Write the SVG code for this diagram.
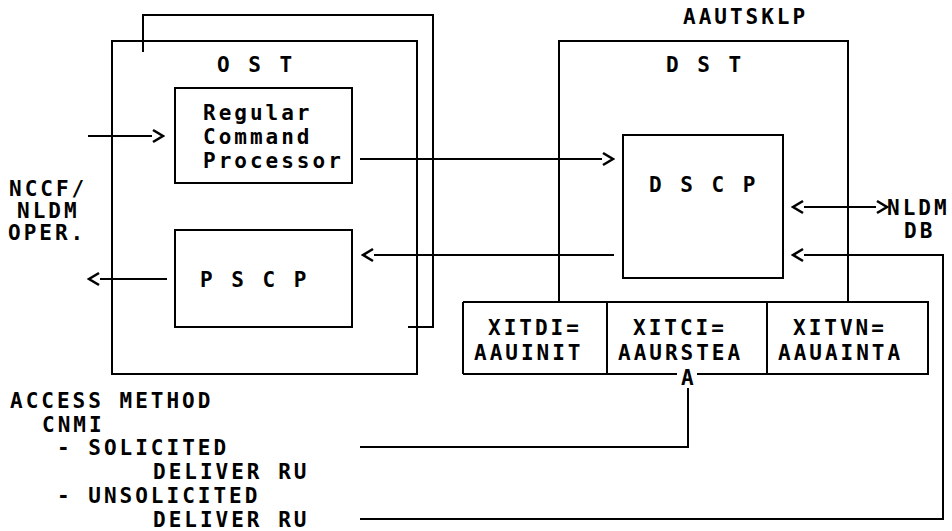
<svg xmlns="http://www.w3.org/2000/svg" width="952" height="531" viewBox="0 0 952 531">
<style>
.b{fill:none;stroke:#000;stroke-width:2}
.c{fill:none;stroke:#000;stroke-width:2}
text{font-family:"DejaVu Sans Mono","Liberation Mono",monospace;font-size:21px;font-weight:bold;letter-spacing:3px;fill:#000}
</style>
<defs>
<marker id="ch" markerUnits="userSpaceOnUse" viewBox="-1 0 13 16" markerWidth="13" markerHeight="16" refX="-1" refY="8" orient="auto-start-reverse">
<path d="M0,2 L10,8 L0,14" fill="none" stroke="#000" stroke-width="2.6"/>
</marker>
</defs>
<rect width="952" height="531" fill="#fff"/>
<g id="connectors">
<path class="c" d="M143,52 V15 H433 V327 H408"/>
<path class="c" d="M88,136 H152" marker-end="url(#ch)"/>
<path class="c" d="M360,159 H602" marker-end="url(#ch)"/>
<path class="c" d="M614,255 H374" marker-end="url(#ch)"/>
<path class="c" d="M167,279 H100" marker-end="url(#ch)"/>
<path class="c" d="M804,207 H876" marker-start="url(#ch)" marker-end="url(#ch)"/>
<path class="c" d="M360,519 H943 V255 H804" marker-end="url(#ch)"/>
<path class="c" d="M360,447 H688 V388"/>
</g>
<g id="ost">
<rect class="b" x="112" y="41" width="305" height="333"/>
<text x="217" y="72">O S T</text>
</g>
<g id="rcp">
<rect class="b" x="175" y="88" width="177" height="95"/>
<text x="203" y="120">Regular</text>
<text x="203" y="144">Command</text>
<text x="203" y="168">Processor</text>
</g>
<g id="pscp">
<rect class="b" x="175" y="230" width="177" height="97"/>
<text x="200" y="287">P S C P</text>
</g>
<g id="dst">
<rect class="b" x="559" y="41" width="289" height="261"/>
<text x="666" y="72">D S T</text>
<text x="683" y="24">AAUTSKLP</text>
</g>
<g id="dscp">
<rect class="b" x="623" y="135" width="160" height="143"/>
<text x="649" y="192">D S C P</text>
</g>
<g id="xit">
<path class="b" d="M463,302 H928 V374 H697 M677,374 H463 Z M607,302 V374 M767,302 V374"/>
<path class="b" d="M463,302 V374"/>
<text x="488" y="335">XITDI=</text>
<text x="474" y="360">AAUINIT</text>
<text x="633" y="335">XITCI=</text>
<text x="618" y="360">AAURSTEA</text>
<text x="793" y="335">XITVN=</text>
<text x="778" y="360">AAUAINTA</text>
<text x="681" y="385">A</text>
</g>
<g id="nccf">
<text x="9" y="196">NCCF/</text>
<text x="17" y="218">NLDM</text>
<text x="8" y="240">OPER.</text>
</g>
<g id="nldmdb">
<text x="887" y="215">NLDM</text>
<text x="904" y="238">DB</text>
</g>
<g id="access">
<text x="10" y="408">ACCESS METHOD</text>
<text x="42" y="432">CNMI</text>
<text x="57" y="455">- SOLICITED</text>
<text x="153" y="479">DELIVER RU</text>
<text x="57" y="503">- UNSOLICITED</text>
<text x="153" y="527">DELIVER RU</text>
</g>
</svg>
